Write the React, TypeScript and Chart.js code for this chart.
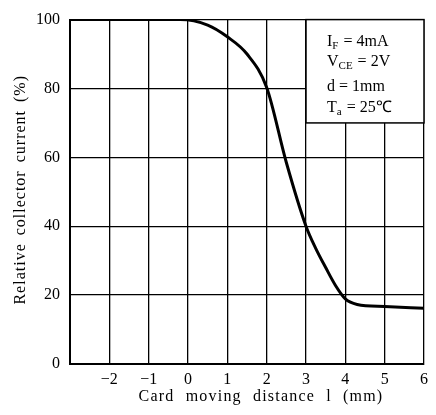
import React, { useEffect, useRef } from "react";
import { Chart, registerables } from "chart.js";

Chart.register(...registerables);

const distance = [-3, -1, -0.2, 0.5, 1, 1.5, 2, 2.5, 3, 3.25, 3.5, 3.75, 4, 4.3, 5, 6];
const current = [100, 100, 100, 98.4, 95, 90, 80.3, 58.5, 40, 33.5, 28, 22.8, 18.9, 17.3, 16.7, 16.2];
const xTickLabels: Record<string, string> = {
  "-3": "",
  "-2": "\u22122",
  "-1": "\u22121",
  "0": "0",
  "1": "1",
  "2": "2",
  "3": "3",
  "4": "4",
  "5": "5",
  "6": "6",
};
const xTitle = "Card moving distance l (mm)";
const yTitle = "Relative collector current (%)";
const conditions = [
  [["I", false], ["F", true], [" = 4mA", false]],
  [["V", false], ["CE", true], [" = 2V", false]],
  [["d = 1mm", false]],
  [["T", false], ["a", true], [" = 25\u2103", false]],
] as [string, boolean][][];

const SERIF = "'Liberation Serif', 'Times New Roman', serif";

const boxPlugin = {
  id: "conditionsBox",
  afterDatasetsDraw(chart: any) {
    const { ctx, scales } = chart;
    const x = scales.x;
    const y = scales.y;
    const l = x.getPixelForValue(3);
    const r = x.getPixelForValue(6);
    const t = y.getPixelForValue(100);
    const b = y.getPixelForValue(70);
    ctx.save();
    ctx.fillStyle = "#fff";
    ctx.fillRect(l, t, r - l, b - t);
    ctx.strokeStyle = "#000";
    ctx.lineWidth = 1.5;
    ctx.strokeRect(l, t, r - l, b - t);
    ctx.fillStyle = "#000";
    ctx.textBaseline = "alphabetic";
    ctx.textAlign = "left";
    const baselines = [26, 46, 71, 92];
    conditions.forEach((line, i) => {
      let cx = l + 21;
      const by = t + baselines[i];
      line.forEach(([txt, sub]) => {
        ctx.font = sub ? `11px ${SERIF}` : `16px ${SERIF}`;
        ctx.fillText(txt, cx, sub ? by + 3 : by);
        cx += ctx.measureText(txt).width + (sub ? 1 : 0);
      });
    });

    // axis titles
    const ca = chart.chartArea;
    ctx.font = `16px ${SERIF}`;
    ctx.textAlign = "center";
    ctx.textBaseline = "middle";
    (ctx as any).letterSpacing = "1.2px";
    (ctx as any).wordSpacing = "6px";
    ctx.fillText(xTitle, (ca.left + ca.right) / 2 + 14, 397);
    ctx.save();
    ctx.translate(21, (ca.top + ca.bottom) / 2 - 2);
    ctx.rotate(-Math.PI / 2);
    (ctx as any).letterSpacing = "1px";
    (ctx as any).wordSpacing = "3px";
    ctx.fillText(yTitle, 0, 0);
    ctx.restore();
    ctx.restore();
  },
};

export default function App() {
  const ref = useRef<HTMLCanvasElement>(null);
  useEffect(() => {
    document.body.style.margin = "0";
    const chart = new Chart(ref.current!, {
      type: "line",
      data: {
        datasets: [
          {
            data: distance.map((d, i) => ({ x: d, y: current[i] })),
            borderColor: "#000",
            borderWidth: 3,
            pointRadius: 0,
            cubicInterpolationMode: "monotone",
            fill: false,
          },
        ],
      },
      options: {
        animation: false,
        responsive: false,
        layout: { padding: { left: 0, right: 12, top: 11, bottom: 0 } },
        plugins: { legend: { display: false }, tooltip: { enabled: false } },
        scales: {
          x: {
            type: "linear",
            min: -3,
            max: 6,
            afterFit: (s: any) => {
              s.height = 51;
            },
            ticks: {
              stepSize: 1,
              color: "#000",
              padding: 6,
              font: { family: SERIF, size: 16 },
              callback: (v: any) => xTickLabels[String(v)] ?? "",
            },
            grid: { color: "#000", lineWidth: 1.3, drawTicks: false },
            border: { color: "#000", width: 2 },
            title: { display: false },
          },
          y: {
            min: 0,
            max: 100,
            afterFit: (s: any) => {
              s.width = 70;
            },
            ticks: {
              stepSize: 20,
              color: "#000",
              padding: 10,
              font: { family: SERIF, size: 16 },
            },
            grid: { color: "#000", lineWidth: 1.3, drawTicks: false },
            border: { color: "#000", width: 2 },
            title: { display: false },
          },
        },
      },
      plugins: [boxPlugin],
    });
    return () => chart.destroy();
  }, []);
  return (
    <div style={{ width: 436, height: 415 }}>
      <canvas ref={ref} width={436} height={415} />
    </div>
  );
}
